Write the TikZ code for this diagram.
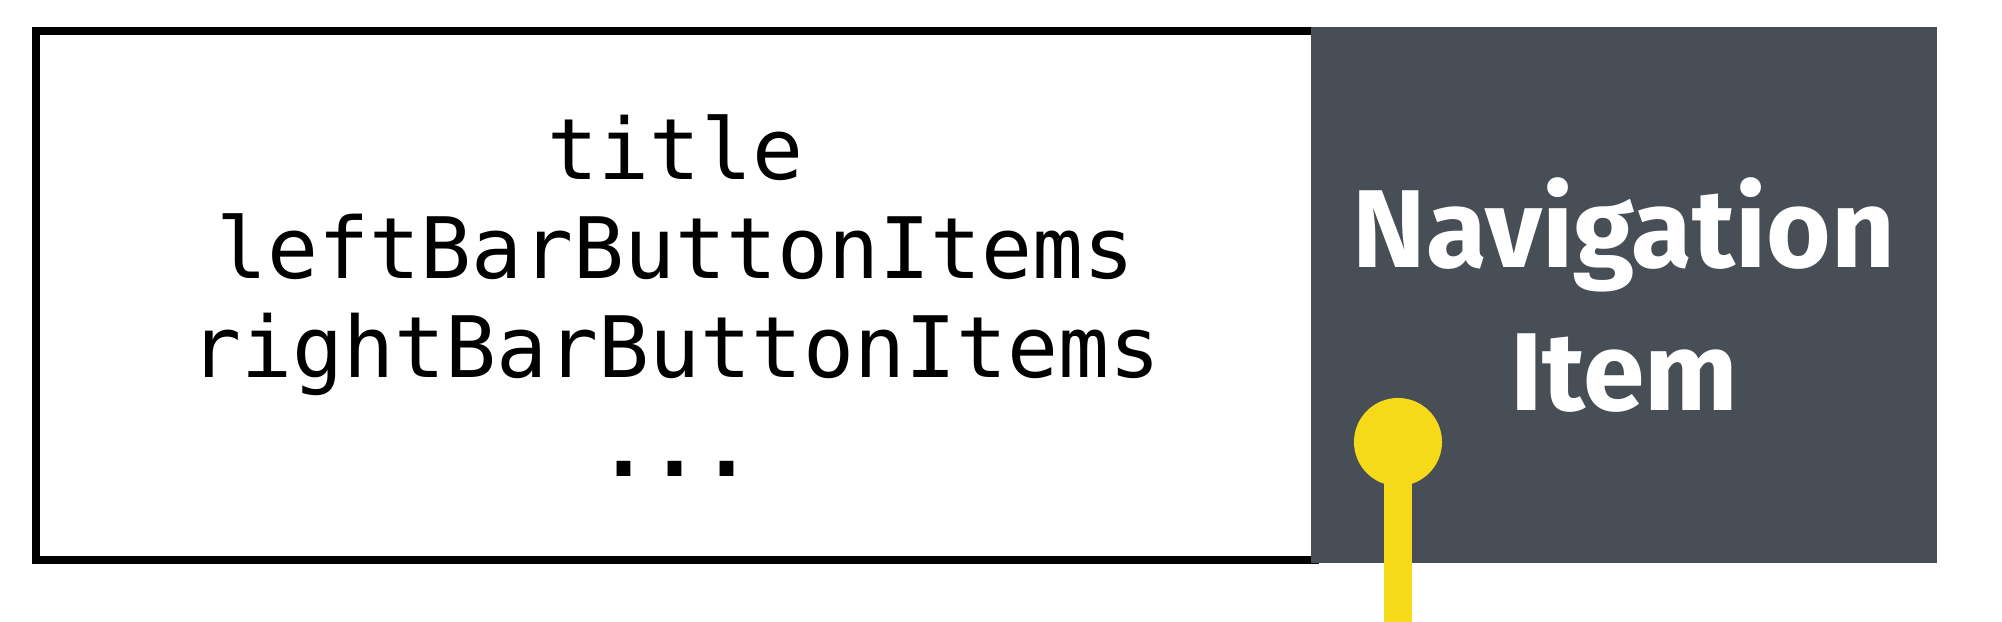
\documentclass[tikz,border=0pt]{standalone}
\usepackage{fontspec}
\setmonofont{DejaVu Sans Mono}
\newfontfamily\navfont{Fira Sans}
\usetikzlibrary{positioning}
\definecolor{navdark}{RGB}{72, 78, 86}
\definecolor{pinyellow}{RGB}{246, 217, 24}

\tikzset{
	propbox/.style={draw=black, line width=2.3pt, fill=white, minimum width=12.79cm, minimum height=5.29cm, inner sep=0pt, align=center, font=\ttfamily\fontsize{24.1}{28.2}\selectfont},
	navbox/.style={fill=navdark, minimum width=6.26cm, minimum height=5.36cm, inner sep=0pt, align=center, text=white, font=\navfont\bfseries\fontsize{31.5}{40.7}\selectfont},
	pindot/.style={circle, fill=pinyellow, minimum size=0.88cm, inner sep=0pt},
	pinline/.style={draw=pinyellow, line width=8.2pt}
}

\begin{document}
\begin{tikzpicture}[x=0.01cm, y=-0.01cm]
		\useasboundingbox (0,0) rectangle (2002,622);

		% properties of the item
		\node[propbox] (props) at (675.5,295.5) {title\\leftBarButtonItems\\rightBarButtonItems\\\textbf{...}};

		% the item itself
		\node[navbox] (nav) at (1624,295) {Navigation\\Item};

		% pin
		\coordinate (pinend) at (1398,622);
		\draw[pinline] (1398,442) -- (pinend);
		\node[pindot] (pin) at (1398,442) {};
	\end{tikzpicture}
\end{document}
